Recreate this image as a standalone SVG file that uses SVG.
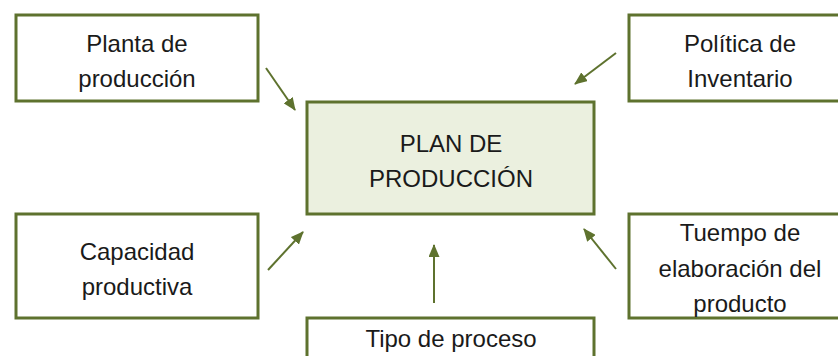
<svg xmlns="http://www.w3.org/2000/svg" width="838" height="356" viewBox="0 0 838 356">
<style>
.box{fill:#ffffff;stroke:#5e722e;stroke-width:3}
.main{fill:#ebf0df;stroke:#5e722e;stroke-width:3}
.t{font-family:"Liberation Sans",Arial,sans-serif;font-size:24px;fill:#1a1a1a;text-anchor:middle}
.c{stroke:#5e722e;stroke-width:2;fill:none;marker-end:url(#ah)}
</style>
<defs>
<marker id="ah" viewBox="0 0 13 11" refX="12" refY="5.5" markerWidth="13" markerHeight="11" markerUnits="userSpaceOnUse" orient="auto">
<path d="M0,0 L13,5.5 L0,11 Z" fill="#5e722e"/>
</marker>
</defs>
<rect width="838" height="356" fill="#ffffff"/>
<g id="connectors">
<line class="c" x1="266" y1="68" x2="295" y2="110"/>
<line class="c" x1="616" y1="53" x2="575" y2="84"/>
<line class="c" x1="268" y1="270" x2="303" y2="232"/>
<line class="c" x1="434" y1="303" x2="434" y2="245"/>
<line class="c" x1="616" y1="269" x2="584" y2="229"/>
</g>
<g id="n-planta">
<rect class="box" x="16" y="15" width="242" height="86"/>
<text class="t" x="137" y="52">Planta de</text>
<text class="t" x="137" y="87">producción</text>
</g>
<g id="n-politica">
<rect class="box" x="629" y="15" width="222" height="86"/>
<text class="t" x="740" y="52">Política de</text>
<text class="t" x="740" y="87">Inventario</text>
</g>
<g id="n-plan">
<rect class="main" x="307" y="102" width="287" height="112"/>
<text class="t" x="451" y="152">PLAN DE</text>
<text class="t" x="451" y="187">PRODUCCIÓN</text>
</g>
<g id="n-capacidad">
<rect class="box" x="16" y="214" width="242" height="104"/>
<text class="t" x="137" y="260">Capacidad</text>
<text class="t" x="137" y="295">productiva</text>
</g>
<g id="n-tiempo">
<rect class="box" x="629" y="214" width="222" height="104"/>
<text class="t" x="740" y="241">Tuempo de</text>
<text class="t" x="740" y="277">elaboración del</text>
<text class="t" x="740" y="312">producto</text>
</g>
<g id="n-tipo">
<rect class="box" x="307" y="318" width="287" height="50"/>
<text class="t" x="451" y="347">Tipo de proceso</text>
</g>
</svg>
